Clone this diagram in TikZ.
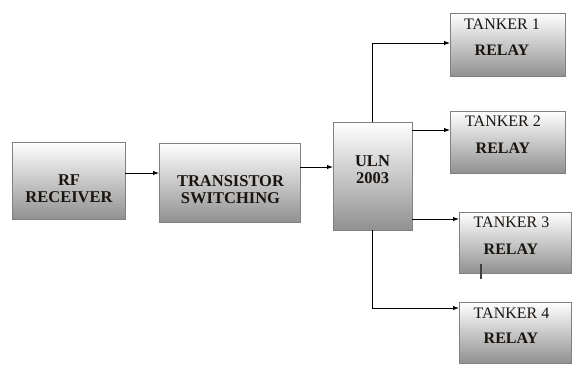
\documentclass[tikz,border=0pt]{standalone}
\usepackage{fontspec}
\setmainfont{Liberation Serif}
\usetikzlibrary{arrows.meta}
\definecolor{edgegray}{RGB}{128,128,128}
\definecolor{shadegray}{RGB}{145,145,145}
\definecolor{inkdark}{RGB}{25,20,15}
\tikzset{
  block/.style={draw=edgegray, line width=0.9pt, top color=white, bottom color=shadegray,
    inner sep=0pt, outer sep=0pt},
  bigtxt/.style={font=\rmfamily\bfseries\fontsize{16.5}{16.5}\selectfont, text=inkdark,
    align=center, inner sep=0pt},
  toptxt/.style={font=\rmfamily\fontsize{16}{16}\selectfont, text=inkdark, inner sep=0pt},
  reltxt/.style={font=\rmfamily\bfseries\fontsize{16}{16}\selectfont, text=inkdark, inner sep=0pt},
  link/.style={line width=1pt, draw=black, -{Latex[length=6pt,width=4.5pt]}},
}
\begin{document}
\begin{tikzpicture}[x=1pt,y=-1pt]
  \useasboundingbox (0,0) rectangle (573,365);
  \fill[white] (0,0) rectangle (573,365);

  % blocks
  \node[block, minimum width=113pt, minimum height=77pt]  (rf)  at (68.5,180.5) {};
  \node[block, minimum width=141pt, minimum height=79pt]  (ts)  at (229.5,182.5) {};
  \node[block, minimum width=79pt,  minimum height=108pt] (uln) at (372.5,176) {};
  \node[block, minimum width=115pt, minimum height=63pt]  (t1)  at (507.5,44.5) {};
  \node[block, minimum width=115pt, minimum height=62pt]  (t2)  at (507.5,142) {};
  \node[block, minimum width=112pt, minimum height=61pt]  (t3)  at (515,242.5) {};
  \node[block, minimum width=112pt, minimum height=61pt]  (t4)  at (515,332.5) {};

  % block labels
  \node[bigtxt] (rfl)  at (69,188.5)  {RF\\RECEIVER};
  \node[bigtxt] (tsl)  at (230.5,189.5) {TRANSISTOR\\SWITCHING};
  \node[bigtxt] (ulnl) at (372.5,169.5) {ULN\\2003};

  \node[toptxt] (t1a) at (502,24)  {TANKER 1};
  \node[reltxt] (t1b) at (502,50)  {RELAY};
  \node[toptxt] (t2a) at (503,121) {TANKER 2};
  \node[reltxt] (t2b) at (503,148) {RELAY};
  \node[toptxt] (t3a) at (511.5,222) {TANKER 3};
  \node[reltxt] (t3b) at (511,249)   {RELAY};
  \node[toptxt] (t4a) at (511.5,313) {TANKER 4};
  \node[reltxt] (t4b) at (511,338)   {RELAY};

  % short mark inside the third relay block
  \draw[line width=1.6pt, draw=black!75] (481,264) -- (481,279);

  % connector anchor points
  \coordinate (c1) at (125,173);
  \coordinate (c2) at (300,167);
  \coordinate (c3) at (412,130);
  \coordinate (c4) at (412,219);
  \coordinate (c5) at (372.5,43);
  \coordinate (c6) at (372.5,308);

  % connectors
  \draw[link] (c1) -- (c1 -| ts.west);
  \draw[link] (c2) -- (c2 -| uln.west);
  \draw[link] (uln.north) -- (c5) -- (c5 -| t1.west);
  \draw[link] (c3) -- (c3 -| t2.west);
  \draw[link] (c4) -- (c4 -| t3.west);
  \draw[link] (uln.south) -- (c6) -- (c6 -| t4.west);
\end{tikzpicture}
\end{document}
